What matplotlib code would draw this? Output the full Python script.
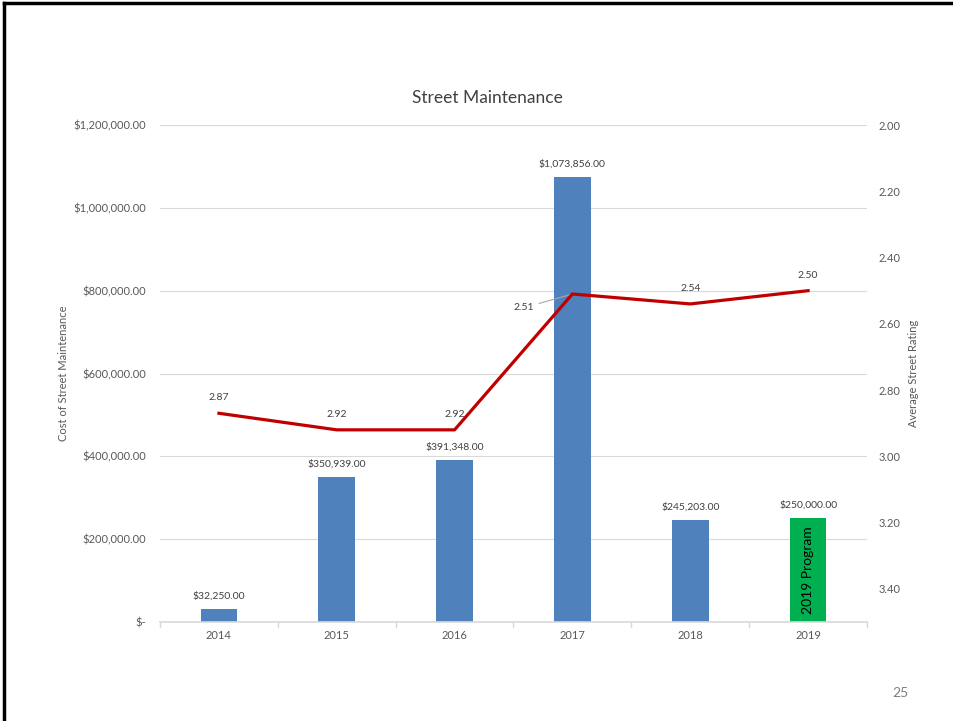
import matplotlib.pyplot as plt
from matplotlib.lines import Line2D

# data
years = ['2014', '2015', '2016', '2017', '2018', '2019']
costs = [32250, 350939, 391348, 1073856, 245203, 250000]
ratings = [2.87, 2.92, 2.92, 2.51, 2.54, 2.50]
bar_colors = ['#4F81BD'] * 5 + ['#00B050']

plt.rcParams['font.family'] = ['Lato', 'DejaVu Sans']
grey = '#595959'

fig = plt.figure(figsize=(9.54, 7.21), dpi=100)
ax = fig.add_axes([160 / 954, 0.1373, 707 / 954, 0.6893])

x = list(range(len(years)))
bars = ax.bar(x, costs, width=0.31, color=bar_colors, zorder=2)
ax.set_xlim(-0.5, len(years) - 0.5)
ax.set_ylim(0, 1200000)
ax.set_yticks(range(0, 1200001, 200000))
ax.set_yticklabels(['$-'] + [f'${v:,.2f}' for v in range(200000, 1200001, 200000)])
ax.yaxis.grid(True, color='#D9D9D9', lw=0.8, zorder=0)
ax.set_xticks(x)
ax.set_xticklabels(years)
ax.tick_params(axis='both', labelsize=8, colors=grey, length=0, pad=6)
ax.tick_params(axis='y', pad=10)
for s in ['top', 'left', 'right']:
    ax.spines[s].set_visible(False)
ax.spines['bottom'].set_color('#D9D9D9')
ax.spines['bottom'].set_linewidth(1.2)
# category boundary ticks below the axis
for b in range(len(years) + 1):
    ax.plot([b - 0.5, b - 0.5], [0, -12000], color='#D9D9D9', lw=1, clip_on=False)

for rect, c in zip(bars, costs):
    ax.annotate(f'${c:,.2f}', (rect.get_x() + rect.get_width() / 2, c),
                xytext=(0, 6), textcoords='offset points', ha='center', va='bottom',
                fontsize=7.5, color='#404040')
ax.text(x[-1], costs[-1] / 2, '2019 Program', rotation=90, ha='center', va='center',
        fontsize=10, color='black', zorder=3)

ax.set_ylabel('Cost of Street Maintenance', fontsize=8, color=grey, labelpad=3)
fig.text(487 / 954, 1 - 98 / 721, 'Street Maintenance', ha='center', va='center',
         fontsize=12.5, color='#404040')

ax2 = ax.twinx()
ax2.plot(x, ratings, color='#C00000', lw=2.3, zorder=4)
ax2.set_ylim(3.5, 2.0)
ax2.set_yticks([2.0, 2.2, 2.4, 2.6, 2.8, 3.0, 3.2, 3.4])
ax2.set_yticklabels([f'{v:.2f}' for v in [2.0, 2.2, 2.4, 2.6, 2.8, 3.0, 3.2, 3.4]])
ax2.tick_params(axis='y', labelsize=8, colors=grey, length=0, pad=8)
for s in ax2.spines.values():
    s.set_visible(False)
ax2.set_ylabel('Average Street Rating', fontsize=8, color=grey, labelpad=6)

for i, r in enumerate(ratings):
    if years[i] == '2017':
        ax2.annotate(f'{r:.2f}', (i, r), xytext=(-28, -10), textcoords='offset points',
                     ha='right', va='center', fontsize=7.5, color='#404040',
                     arrowprops=dict(arrowstyle='-', color='#A6A6A6', lw=0.8,
                                     shrinkA=2, shrinkB=0))
    else:
        ax2.annotate(f'{r:.2f}', (i, r), xytext=(0, 8), textcoords='offset points',
                     ha='center', va='bottom', fontsize=7.5, color='#404040')

# slide frame and page number
fig.add_artist(Line2D([4 / 954, 1], [1 - 3 / 721, 1 - 3 / 721], color='black', lw=2.5))
fig.add_artist(Line2D([4 / 954, 4 / 954], [0, 1 - 3 / 721], color='black', lw=2.5))
fig.text(900 / 954, 1 - 693 / 721, '25', ha='center', va='center', fontsize=10, color='#7F7F7F')

fig.savefig('out.png', dpi=100)
